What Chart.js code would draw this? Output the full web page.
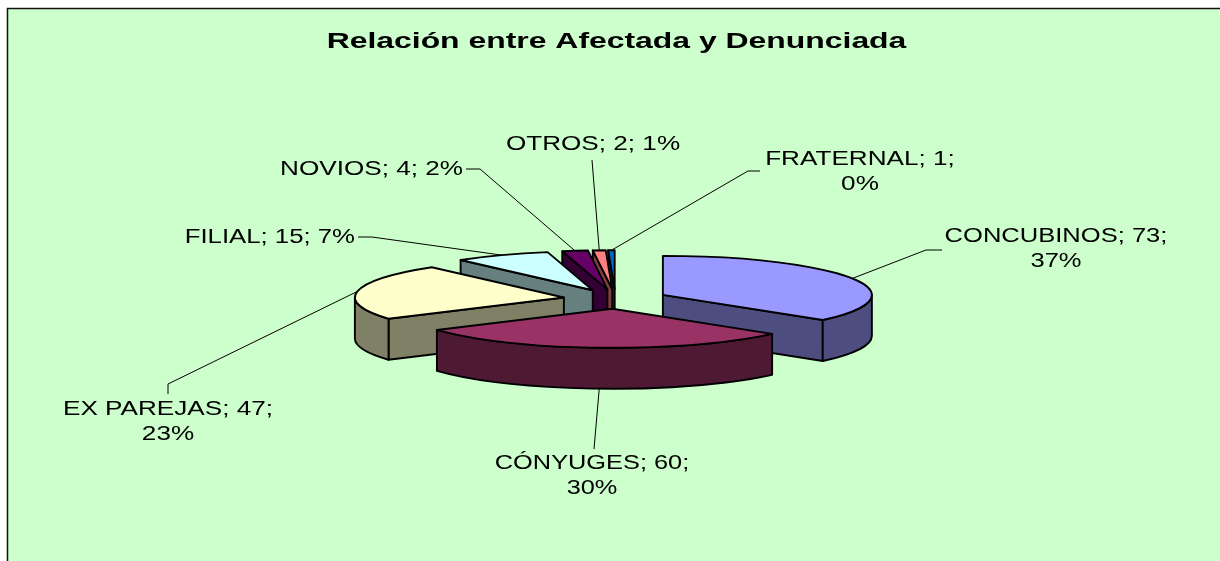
<!DOCTYPE html>
<html><head><meta charset="utf-8">
<style>html,body{margin:0;padding:0;background:#fff;overflow:hidden}canvas{display:block}</style>
<script src="https://cdn.jsdelivr.net/npm/chart.js@4"></script>
</head><body>
<div style="width:1220px;height:561px;position:relative"><canvas id="c" width="1220" height="561"></canvas></div>
<script>
const TITLE = 'Relación entre Afectada y Denunciada';
const categories = ['CONCUBINOS','CÓNYUGES','EX PAREJAS','FILIAL','NOVIOS','OTROS','FRATERNAL'];
const values = [73,60,47,15,4,2,1];
const percents = [37,30,23,7,2,1,0];
const topColors = ['#9999FF','#993366','#FFFFCC','#CCFFFF','#660066','#FF8080','#0066CC'];
const sideColors = ['#4D4D80','#4D1933','#808066','#668080','#330033','#804040','#003366'];

// layout only
const CX = 615.5, CY = 299, RX = 209, TILT = 39/209, DEPTH = 41, SX = 1.34, TITLE_SX = 1.45;
const FONT = '19.5px "Liberation Sans", Arial, sans-serif';
const labelLayout = [
  {x:1056, base:242, align:'center', sx:1.31, lines:[[0,1],[2]], leader:[[926,250],[942,250]]},
  {x:592,  base:469, align:'center', sx:1.30, lines:[[0,1],[2]], leader:[[594,449]]},
  {x:168,  base:415, align:'center', lines:[[0,1],[2]], leader:[[168,384],[168,394]]},
  {x:355,  base:243, align:'right',  sx:1.32, lines:[[0,1,2]],   leader:[[372,237],[358,237]]},
  {x:463,  base:175, align:'right',  lines:[[0,1,2]],   leader:[[480,169],[466,169]]},
  {x:593,  base:150, align:'center', lines:[[0,1,2]],   leader:[[592,160]]},
  {x:860,  base:165, align:'center', lines:[[0,1],[2]], leader:[[748,171],[760,171]]}
];

function project(arc){
  const mid=(arc.startAngle+arc.endAngle)/2, off=arc.options.offset/4;
  return {mid, ax:CX+Math.cos(mid)*off, ay:CY+Math.sin(mid)*off*TILT};
}
function stretched(ctx,text,x,y,align,sx){
  const w=ctx.measureText(text).width*sx;
  const left=align==='center'?x-w/2:align==='right'?x-w:x;
  ctx.save();ctx.translate(left,y);ctx.scale(sx,1);ctx.textAlign='left';ctx.textBaseline='alphabetic';
  ctx.fillText(text,0,0);ctx.restore();
}
const pie3d = {
  id:'pie3d',
  beforeDraw(chart){
    const ctx=chart.ctx;
    ctx.save();
    ctx.fillStyle='#fff';ctx.fillRect(0,0,1220,561);
    ctx.fillStyle='#CCFFCC';ctx.fillRect(8,9,1212,552);
    ctx.strokeStyle='#111';ctx.lineWidth=1.5;
    ctx.beginPath();ctx.moveTo(7.5,561);ctx.lineTo(7.5,8.5);ctx.lineTo(1220,8.5);ctx.stroke();
    ctx.restore();
    const tb=chart.titleBlock;
    if(tb && !tb._patched){
      const orig=tb.draw.bind(tb);
      tb.draw=function(){
        ctx.save();ctx.translate(616.5,0);ctx.scale(TITLE_SX,1);ctx.translate(-610,0);orig();ctx.restore();
      };
      tb._patched=true;
    }
  },
  beforeDatasetsDraw(chart){
    const ctx=chart.ctx, arcs=chart.getDatasetMeta(0).data;
    const order=arcs.map((a,i)=>i).sort((i,j)=>{
      const m=a=>Math.sin((a.startAngle+a.endAngle)/2);return m(arcs[i])-m(arcs[j]);});
    ctx.save();
    ctx.lineJoin='round';ctx.strokeStyle='#000';ctx.lineWidth=1.9;
    for(const i of order){
      const arc=arcs[i], {ax,ay}=project(arc), r=arc.outerRadius, ry=r*TILT;
      const s=arc.startAngle, e=arc.endAngle;
      const pt=a=>[ax+Math.cos(a)*r, ay+Math.sin(a)*ry];
      ctx.fillStyle=sideColors[i];
      const wall=a=>{const p=pt(a);ctx.beginPath();ctx.moveTo(ax,ay);ctx.lineTo(p[0],p[1]);
        ctx.lineTo(p[0],p[1]+DEPTH);ctx.lineTo(ax,ay+DEPTH);ctx.closePath();ctx.fill();ctx.stroke();};
      if(Math.cos(s)<-1e-6) wall(s);
      if(Math.cos(e)>1e-6) wall(e);
      const r0=Math.max(s,0), r1=Math.min(e,Math.PI);
      if(r1>r0){
        ctx.beginPath();ctx.ellipse(ax,ay,r,ry,0,r0,r1);
        ctx.ellipse(ax,ay+DEPTH,r,ry,0,r1,r0,true);ctx.closePath();ctx.fill();ctx.stroke();
      }
      ctx.fillStyle=arc.options.backgroundColor;
      ctx.beginPath();ctx.moveTo(ax,ay);ctx.ellipse(ax,ay,r,ry,0,s,e);ctx.closePath();ctx.fill();ctx.stroke();
    }
    ctx.restore();
    return false;
  },
  afterDraw(chart){
    const ctx=chart.ctx, arcs=chart.getDatasetMeta(0).data;
    ctx.save();ctx.strokeStyle='#000';ctx.lineWidth=1;ctx.fillStyle='#000';ctx.font=FONT;
    arcs.forEach((arc,i)=>{
      const {mid,ax,ay}=project(arc), L=labelLayout[i], r=arc.outerRadius;
      let sy=ay+Math.sin(mid)*r*TILT; if(Math.sin(mid)>0) sy+=DEPTH;
      ctx.beginPath();ctx.moveTo(ax+Math.cos(mid)*r,sy);
      L.leader.forEach(p=>ctx.lineTo(p[0],p[1]));ctx.stroke();
      const parts=[categories[i],values[i],percents[i]+'%'];
      L.lines.forEach((idx,n)=>{
        const t=idx.map(k=>parts[k]).join('; ')+(n===0&&L.lines.length>1?';':'');
        stretched(ctx,t,L.x,L.base+n*24.5,L.align,L.sx||SX);
      });
    });
    ctx.restore();
  }
};
new Chart(document.getElementById('c'),{
  type:'pie',
  data:{labels:categories,datasets:[{data:values,backgroundColor:topColors,borderWidth:0,offset:RX}]},
  options:{
    responsive:false,animation:false,radius:RX,
    layout:{padding:0},
    events:[],
    plugins:{
      legend:{display:false},tooltip:{enabled:false},
      title:{display:true,text:TITLE,color:'#000',align:'center',
        font:{family:'"Liberation Sans", Arial, sans-serif',size:22,weight:'bold',lineHeight:1.2},
        padding:{top:29,bottom:0}}
    }
  },
  plugins:[pie3d]
});
</script></body></html>
